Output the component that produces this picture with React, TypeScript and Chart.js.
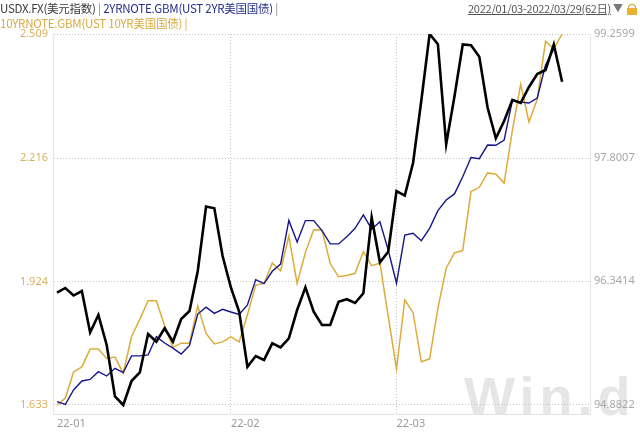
import React, { useEffect, useRef } from "react";
import { Chart, registerables } from "chart.js";

Chart.register(...registerables);

// USDX (美元指数) — right axis
const usdx = [
  96.207, 96.263, 96.174, 96.227, 95.738, 95.944, 95.59, 94.983, 94.882, 95.165,
  95.266, 95.72, 95.629, 95.787, 95.629, 95.897, 95.991, 96.463, 97.224, 97.203,
  96.64, 96.269, 95.983, 95.334, 95.46, 95.413, 95.61, 95.563, 95.669, 96.003,
  96.271, 95.983, 95.826, 95.826, 96.101, 96.13, 96.086, 96.2, 97.095, 96.566,
  96.691, 97.407, 97.354, 97.738, 98.475, 99.26, 99.14, 97.96, 98.523, 99.136,
  99.127, 98.992, 98.393, 98.029, 98.233, 98.481, 98.446, 98.635, 98.788, 98.835,
  99.136, 98.697,
];

// UST 2YR yield — own (hidden) axis
const ust2y = [
  0.785, 0.772, 0.836, 0.876, 0.883, 0.917, 0.898, 0.932, 0.913, 0.987,
  0.987, 0.991, 1.072, 1.044, 1.021, 0.995, 1.033, 1.172, 1.202, 1.175,
  1.193, 1.181, 1.17, 1.212, 1.324, 1.306, 1.361, 1.393, 1.586, 1.49,
  1.585, 1.585, 1.541, 1.482, 1.482, 1.514, 1.551, 1.61, 1.547, 1.58,
  1.455, 1.308, 1.521, 1.529, 1.496, 1.551, 1.629, 1.676, 1.703, 1.779,
  1.864, 1.859, 1.919, 1.918, 1.941, 2.118, 2.109, 2.105, 2.127, 2.273,
  2.344, null,
];

// UST 10YR yield — left axis
const ust10y = [
  1.633, 1.649, 1.711, 1.723, 1.765, 1.765, 1.743, 1.746, 1.708, 1.794,
  1.835, 1.879, 1.879, 1.82, 1.769, 1.779, 1.779, 1.867, 1.802, 1.777,
  1.782, 1.794, 1.782, 1.846, 1.916, 1.92, 1.968, 1.95, 2.032, 1.92,
  1.993, 2.047, 2.046, 1.967, 1.936, 1.939, 1.944, 1.995, 1.962, 1.968,
  1.843, 1.718, 1.881, 1.851, 1.735, 1.742, 1.861, 1.956, 1.992, 1.998,
  2.137, 2.147, 2.181, 2.178, 2.157, 2.282, 2.39, 2.301, 2.355, 2.492,
  2.474, 2.509,
];

const tickPositions = [0, 21, 41];
const tickLabels = ["22-01", "22-02", "22-03"];
const leftTicks = [1.633, 1.924, 2.216, 2.509];
const rightTicks = [94.8822, 96.3414, 97.8007, 99.2599];

const FONT = "'Noto Sans', 'Noto Sans CJK SC', sans-serif";
const CJK = "'Noto Sans CJK SC', 'Noto Sans', sans-serif";

export default function App() {
  const ref = useRef<HTMLCanvasElement>(null);

  useEffect(() => {
    const toPts = (arr: (number | null)[]) => arr.map((v, i) => ({ x: i, y: v }));
    const chart = new Chart(ref.current as HTMLCanvasElement, {
      type: "line",
      data: {
        datasets: [
          {
            label: "USDX",
            data: toPts(usdx) as any,
            yAxisID: "y1",
            borderColor: "#000000",
            borderWidth: 2.6,
            pointRadius: 0,
            tension: 0,
          },
          {
            label: "2YR",
            data: toPts(ust2y) as any,
            yAxisID: "y2",
            borderColor: "#16168a",
            borderWidth: 1.4,
            pointRadius: 0,
            tension: 0,
          },
          {
            label: "10YR",
            data: toPts(ust10y) as any,
            yAxisID: "y",
            borderColor: "#dcab3c",
            borderWidth: 1.5,
            pointRadius: 0,
            tension: 0,
          },
        ],
      },
      options: {
        animation: false,
        responsive: false,
        layout: { padding: { top: 34, left: 0, right: 0, bottom: 0 } },
        plugins: { legend: { display: false }, tooltip: { enabled: false } },
        scales: {
          x: {
            type: "linear",
            min: -0.483,
            max: 64.37,
            afterBuildTicks: (s: any) => {
              s.ticks = tickPositions.map((v) => ({ value: v }));
            },
            afterFit: (s: any) => {
              s.height = 19;
            },
            ticks: {
              autoSkip: false,
              maxRotation: 0,
              align: "start",
              padding: 3,
              color: "#9a9a9a",
              font: { size: 11, family: FONT },
              callback: (v: any) => {
                const k = tickPositions.indexOf(Number(v));
                return k >= 0 ? tickLabels[k] : "";
              },
            },
            grid: {
              color: (c: any) => (c.index === 0 ? "rgba(0,0,0,0)" : "#c4c4c4"),
              drawTicks: false,
            },
            border: { display: true, color: "#e2e2e2", dash: [1, 2] },
          },
          y: {
            position: "left",
            min: 1.6117,
            max: 2.509,
            afterBuildTicks: (s: any) => {
              s.ticks = leftTicks.map((v) => ({ value: v }));
            },
            afterFit: (s: any) => {
              s.width = 53;
            },
            ticks: {
              color: "#d6b25e",
              padding: 5,
              font: { size: 11, family: FONT },
              callback: (v: any) => Number(v).toFixed(3),
            },
            grid: { color: "#c4c4c4", drawTicks: false },
            border: { display: true, color: "#e6e6e6", dash: [1, 2] },
          },
          y1: {
            position: "right",
            min: 94.776,
            max: 99.2599,
            afterBuildTicks: (s: any) => {
              s.ticks = rightTicks.map((v) => ({ value: v }));
            },
            afterFit: (s: any) => {
              s.width = 50;
            },
            ticks: {
              color: "#a8a8a8",
              padding: 4,
              font: { size: 11, family: FONT },
              callback: (v: any) => Number(v).toFixed(4),
            },
            grid: { drawOnChartArea: false, drawTicks: false },
            border: { display: true, color: "#e6e6e6" },
          },
          y2: {
            display: false,
            min: 0.73,
            max: 2.41,
          },
        },
      },
    } as any);
    return () => chart.destroy();
  }, []);

  return (
    <div
      style={{
        position: "absolute",
        left: 0,
        top: 0,
        width: 640,
        height: 433,
        background: "#ffffff",
        overflow: "hidden",
      }}
    >
      <div
        style={{
          position: "absolute",
          left: 464,
          top: 366,
          fontFamily: "'Liberation Sans', Arial, sans-serif",
          fontWeight: 700,
          fontSize: 54,
          letterSpacing: 5,
          color: "#e6e6e6",
          lineHeight: "60px",
          whiteSpace: "nowrap",
        }}
      >
        Win.d
      </div>
      <canvas ref={ref} width={640} height={433} style={{ position: "absolute", left: 0, top: 0 }} />
      <div
        style={{
          position: "absolute",
          left: 0,
          top: 1,
          fontFamily: CJK,
          fontSize: 11.5,
          letterSpacing: -0.25,
          lineHeight: "15px",
          whiteSpace: "nowrap",
        }}
      >
        <div>
          <span style={{ color: "#3a3a3a" }}>USDX.FX(美元指数)</span>
          <span style={{ color: "#888" }}> | </span>
          <span style={{ color: "#25308a" }}>2YRNOTE.GBM(UST 2YR美国国债)</span>
          <span style={{ color: "#888" }}> |</span>
        </div>
        <div style={{ color: "#d8ab40" }}>10YRNOTE.GBM(UST 10YR美国国债) |</div>
      </div>
      <div
        style={{
          position: "absolute",
          left: 468,
          top: 1,
          fontFamily: CJK,
          fontSize: 11,
          letterSpacing: -0.25,
          lineHeight: "15px",
          color: "#555",
          whiteSpace: "nowrap",
          textDecoration: "underline",
        }}
      >
        2022/01/03-2022/03/29(62日)
      </div>
      <div
        style={{
          position: "absolute",
          left: 613,
          top: 1,
          fontFamily: FONT,
          fontSize: 10,
          lineHeight: "15px",
          color: "#777",
        }}
      >
        ▼
      </div>
      <div
        style={{
          position: "absolute",
          left: 628,
          top: 4,
          width: 6,
          height: 4,
          border: "1.5px solid #e0a020",
          borderBottom: "none",
          borderRadius: "4px 4px 0 0",
        }}
      />
      <div
        style={{
          position: "absolute",
          left: 627,
          top: 8,
          width: 10,
          height: 7,
          background: "#e8b030",
        }}
      />
    </div>
  );
}
